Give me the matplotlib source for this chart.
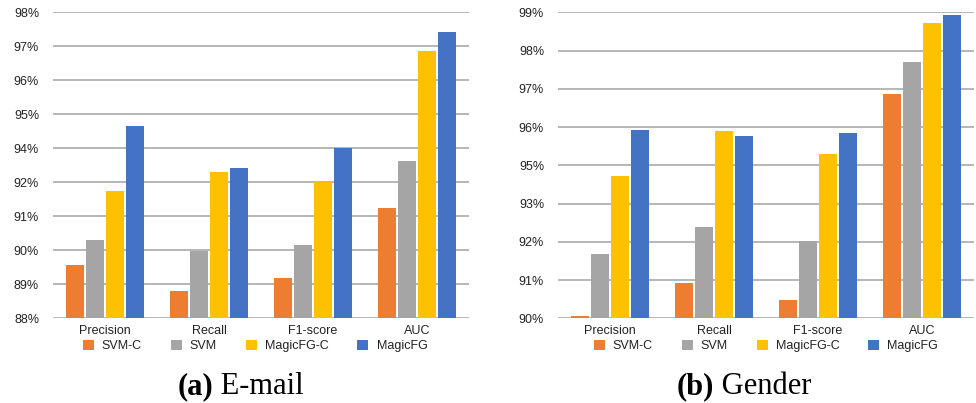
import numpy as np
import matplotlib
matplotlib.use("Agg")
import matplotlib.pyplot as plt
from matplotlib.patches import Patch

plt.rcParams["font.family"] = ["Liberation Sans", "DejaVu Sans"]

metrics = ["Precision", "Recall", "F1-score", "AUC"]
methods = ["SVM-C", "SVM", "MagicFG-C", "MagicFG"]
colors = ["#ED7D31", "#A5A5A5", "#FFC000", "#4472C4"]

# E-mail results (%), one list per method over the metrics
email_svm_c = [89.74, 88.89, 89.32, 91.61]
email_svm = [90.56, 90.21, 90.40, 93.14]
email_magicfg_c = [92.16, 92.78, 92.46, 96.74]
email_magicfg = [94.29, 92.91, 93.57, 97.36]

# Gender results (%)
gender_svm_c = [90.07, 91.04, 90.54, 96.60]
gender_svm = [91.89, 92.69, 92.27, 97.54]
gender_magicfg_c = [94.19, 95.51, 94.83, 98.69]
gender_magicfg = [95.54, 95.36, 95.45, 98.92]

# y axes: evenly spaced gridlines, labels rounded to whole percent
email_yrange = (88, 98)
email_ylabels = ["88%", "89%", "90%", "91%", "92%", "94%", "95%", "96%", "97%", "98%"]
gender_yrange = (90, 99)
gender_ylabels = ["90%", "91%", "92%", "93%", "95%", "96%", "97%", "98%", "99%"]

W, H = 976, 403
fig = plt.figure(figsize=(W / 100, H / 100), dpi=100)


def draw_panel(left_px, series, yrange, ylabels, legend_cx, caption_x, bold, rest):
    ax = fig.add_axes([left_px / W, 1 - 318.3 / H, 416 / W, 306 / H])
    x = np.arange(len(metrics))
    pitch, width = 0.195, 0.172
    for i, (vals, c) in enumerate(zip(series, colors)):
        ax.bar(x + (i - 1.5) * pitch, [v - yrange[0] for v in vals], width,
               bottom=yrange[0], color=c, zorder=3)
    ax.set_xlim(-0.5, len(metrics) - 0.5)
    ax.set_ylim(*yrange)
    ax.set_yticks(np.linspace(yrange[0], yrange[1], len(ylabels)))
    ax.set_yticklabels(ylabels)
    ax.set_xticks(x)
    ax.set_xticklabels(metrics)
    ax.tick_params(axis="both", length=0, labelsize=9, colors="#222222")
    ax.tick_params(axis="y", pad=10)
    ax.tick_params(axis="x", pad=4.5)
    ax.yaxis.grid(True, color="#a3a3a3", linewidth=1.1)
    ax.set_axisbelow(True)
    for s in ax.spines.values():
        s.set_visible(False)

    handles = [Patch(facecolor=c, label=m) for c, m in zip(colors, methods)]
    fig.legend(handles=handles, loc="center", ncol=4, frameon=False,
               bbox_to_anchor=(legend_cx / W, 1 - 346 / H), fontsize=9,
               handlelength=0.88, handleheight=0.88, handletextpad=0.65,
               columnspacing=2.3, labelcolor="#222222")

    # caption: bold panel letter followed by the dataset name
    fig.text(caption_x / W, 1 - 394 / H, bold, ha="right", va="baseline",
             fontsize=22, fontweight="bold", family="Liberation Serif")
    fig.text(caption_x / W, 1 - 394 / H, rest, ha="left", va="baseline",
             fontsize=22, family="Liberation Serif")
    return ax


draw_panel(53, [email_svm_c, email_svm, email_magicfg_c, email_magicfg],
           email_yrange, email_ylabels, 255, 213, "(a)", " E-mail")
draw_panel(558, [gender_svm_c, gender_svm, gender_magicfg_c, gender_magicfg],
           gender_yrange, gender_ylabels, 766, 714, "(b)", " Gender")

fig.savefig("out.png", dpi=100)
